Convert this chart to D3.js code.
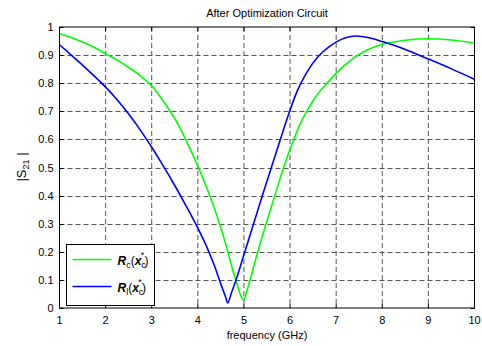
<!DOCTYPE html>
<html>
<head>
<meta charset="utf-8">
<script src="https://cdn.jsdelivr.net/npm/d3@7"></script>
<style>
  body { margin: 0; background: #fff; }
  text { font-family: Arial, 'Liberation Sans', sans-serif; fill: #000; }
</style>
</head>
<body>
<div id="chart"></div>
<script>
// R_c(x_c*) curve (green)
const rcFreq = [1.0, 1.25, 1.5, 1.75, 2.0, 2.25, 2.5, 2.75, 3.0, 3.2, 3.4, 3.6, 3.8, 4.0, 4.2, 4.4, 4.6, 4.75, 4.85, 4.93, 4.99, 5.07, 5.15, 5.3, 5.48, 5.67, 5.86, 6.07, 6.2, 6.35, 6.55, 6.8, 7.0, 7.2, 7.4, 7.6, 7.8, 8.0, 8.5, 9.0, 9.5, 10.0]
const rcMag = [0.977, 0.963, 0.947, 0.928, 0.905, 0.882, 0.856, 0.827, 0.79, 0.748, 0.70, 0.645, 0.578, 0.505, 0.425, 0.335, 0.23, 0.14, 0.085, 0.045, 0.028, 0.065, 0.11, 0.2, 0.3, 0.4, 0.5, 0.595, 0.648, 0.697, 0.75, 0.8, 0.835, 0.866, 0.892, 0.912, 0.927, 0.938, 0.953, 0.958, 0.954, 0.943]

// R_l(x_c*) curve (blue)
const rlFreq = [1.0, 1.25, 1.5, 1.75, 2.0, 2.25, 2.5, 2.75, 3.0, 3.25, 3.5, 3.75, 4.0, 4.2, 4.35, 4.5, 4.6, 4.65, 4.72, 4.85, 5.0, 5.2, 5.4, 5.6, 5.8, 5.98, 6.15, 6.35, 6.6, 6.85, 7.1, 7.43, 7.8, 8.0, 8.5, 9.0, 9.5, 10.0]
const rlMag = [0.937, 0.901, 0.864, 0.826, 0.786, 0.741, 0.69, 0.634, 0.572, 0.506, 0.436, 0.362, 0.284, 0.215, 0.155, 0.085, 0.04, 0.018, 0.05, 0.11, 0.19, 0.295, 0.4, 0.503, 0.605, 0.695, 0.77, 0.835, 0.893, 0.93, 0.955, 0.968, 0.958, 0.948, 0.92, 0.886, 0.851, 0.814]

const xTicks = [1, 2, 3, 4, 5, 6, 7, 8, 9, 10]
const yTicks = [0, 0.1, 0.2, 0.3, 0.4, 0.5, 0.6, 0.7, 0.8, 0.9, 1]

const margin = { top: 27, left: 59.5, right: 7.5, bottom: 38 }
const width = 482 - margin.left - margin.right
const height = 346 - margin.top - margin.bottom

const svg = d3
  .select('#chart')
  .append('svg')
  .attr('width', 482)
  .attr('height', 346)

const g = svg
  .append('g')
  .attr('transform', 'translate(' + margin.left + ',' + margin.top + ')')

const xScale = d3.scaleLinear().domain([1, 10]).range([0, width])
const yScale = d3.scaleLinear().domain([0, 1]).range([height, 0])

// grid
g.selectAll('.vgrid')
  .data(xTicks.slice(1, -1))
  .enter()
  .append('line')
  .attr('x1', d => xScale(d))
  .attr('x2', d => xScale(d))
  .attr('y1', 0)
  .attr('y2', height)
  .attr('stroke', '#555')
  .attr('stroke-dasharray', '5,3')

g.selectAll('.hgrid')
  .data(yTicks.slice(1, -1))
  .enter()
  .append('line')
  .attr('x1', 0)
  .attr('x2', width)
  .attr('y1', d => Math.round(yScale(d)) + 0.5)
  .attr('y2', d => Math.round(yScale(d)) + 0.5)
  .attr('stroke', '#555')
  .attr('stroke-dasharray', '5,3')

// inward ticks on all four sides
const tickLen = 4
xTicks.forEach(d => {
  g.append('line').attr('x1', xScale(d)).attr('x2', xScale(d))
    .attr('y1', height).attr('y2', height - tickLen).attr('stroke', '#000')
  g.append('line').attr('x1', xScale(d)).attr('x2', xScale(d))
    .attr('y1', 0).attr('y2', tickLen).attr('stroke', '#000')
})
yTicks.forEach(d => {
  const y = Math.round(yScale(d)) + 0.5
  g.append('line').attr('x1', 0).attr('x2', tickLen)
    .attr('y1', y).attr('y2', y).attr('stroke', '#000')
  g.append('line').attr('x1', width - tickLen).attr('x2', width)
    .attr('y1', y).attr('y2', y).attr('stroke', '#000')
})

// tick labels
g.selectAll('.xlab')
  .data(xTicks)
  .enter()
  .append('text')
  .attr('x', d => xScale(d))
  .attr('y', height + 16)
  .attr('text-anchor', 'middle')
  .attr('font-size', 11)
  .text(d => d)

g.selectAll('.ylab')
  .data(yTicks)
  .enter()
  .append('text')
  .attr('x', -6)
  .attr('y', d => yScale(d) + 4)
  .attr('text-anchor', 'end')
  .attr('font-size', 11)
  .text(d => (d === 0 || d === 1 ? d : d.toFixed(1)))

// curves
const line = d3
  .line()
  .x(d => xScale(d[0]))
  .y(d => yScale(d[1]))
  .curve(d3.curveMonotoneX)

g.append('path')
  .datum(rcFreq.map((f, i) => [f, rcMag[i]]))
  .attr('d', line)
  .attr('fill', 'none')
  .attr('stroke', '#00ff00')
  .attr('stroke-width', 1.6)

g.append('path')
  .datum(rlFreq.map((f, i) => [f, rlMag[i]]))
  .attr('d', line)
  .attr('fill', 'none')
  .attr('stroke', '#0000ff')
  .attr('stroke-width', 1.6)

// frame
g.append('rect')
  .attr('x', 0)
  .attr('y', 0)
  .attr('width', width)
  .attr('height', height)
  .attr('fill', 'none')
  .attr('stroke', '#000')

// legend
const legend = svg.append('g').attr('transform', 'translate(66.5,244.5)')
legend.append('rect')
  .attr('width', 88)
  .attr('height', 61)
  .attr('fill', '#fff')
  .attr('stroke', '#000')

const legendItems = [
  { color: '#00ff00', sub: 'c', y: 15 },
  { color: '#0000ff', sub: 'l', y: 42 }
]
legendItems.forEach(item => {
  legend.append('line')
    .attr('x1', 6).attr('x2', 45)
    .attr('y1', item.y).attr('y2', item.y)
    .attr('stroke', item.color)
    .attr('stroke-width', 1.6)
  const t = legend.append('text')
    .attr('x', 51)
    .attr('y', item.y + 5)
    .attr('font-size', 12)
  t.append('tspan').attr('font-weight', 'bold').attr('font-style', 'italic').text('R')
  t.append('tspan').attr('font-size', 9).attr('dy', 3).text(item.sub)
  t.append('tspan').attr('dy', -3).text('(')
  t.append('tspan').attr('font-weight', 'bold').attr('font-style', 'italic').text('x')
  t.append('tspan').attr('font-size', 9).attr('dy', 3).text('c')
  t.append('tspan').attr('font-size', 9).attr('dx', -5).attr('dy', -10).text('*')
  t.append('tspan').attr('dy', 7).text(')')
})

// title and axis labels
svg.append('text')
  .attr('x', margin.left + width / 2)
  .attr('y', 17)
  .attr('text-anchor', 'middle')
  .attr('font-size', 11)
  .text('After Optimization Circuit')

svg.append('text')
  .attr('x', margin.left + width / 2)
  .attr('y', 339)
  .attr('text-anchor', 'middle')
  .attr('font-size', 11)
  .text('frequency (GHz)')

const ylab = svg.append('text')
  .attr('transform', 'translate(26,167) rotate(-90)')
  .attr('text-anchor', 'middle')
  .attr('font-size', 13)
ylab.append('tspan').text('|S')
ylab.append('tspan').attr('font-size', 9).attr('dy', 3).text('21')
ylab.append('tspan').attr('dy', -3).text(' |')
</script>
</body>
</html>
